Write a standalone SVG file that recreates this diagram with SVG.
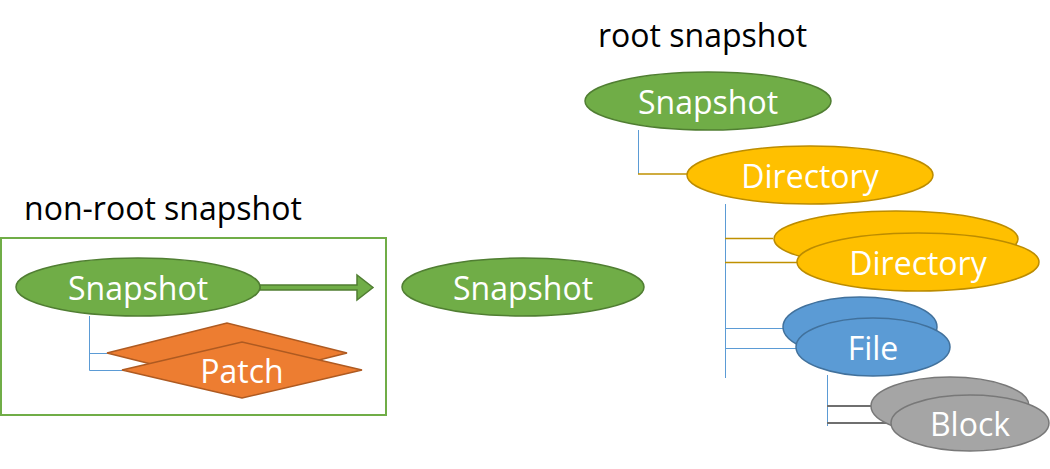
<svg xmlns="http://www.w3.org/2000/svg" width="1050" height="469" viewBox="0 0 1050 469">
<style>
text{font-family:"Open Sans","Noto Sans","Liberation Sans",sans-serif;}
.lbl{fill:#fff;font-size:32px;text-anchor:middle;dominant-baseline:central;}
.title{fill:#000;font-size:32px;}
.green{fill:#70AD47;stroke:#507E32;stroke-width:1.5;}
.orange{fill:#ED7D31;stroke:#AE5A21;stroke-width:1.5;}
.gold{fill:#FFC000;stroke:#BC8C00;stroke-width:1.5;}
.blue{fill:#5B9BD5;stroke:#41719C;stroke-width:1.5;}
.gray{fill:#A5A5A5;stroke:#787878;stroke-width:1.5;}
.cb{stroke:#5B9BD5;stroke-width:1;fill:none;}
.cg{stroke:#BF9000;stroke-width:1.5;fill:none;}
.cy{stroke:#6F6F6F;stroke-width:2;fill:none;}
</style>
<rect x="1" y="238" width="385" height="177" fill="none" stroke="#70AD47" stroke-width="2"/>
<text class="title" x="24" y="220">non-root snapshot</text>
<text class="title" x="598" y="47">root snapshot</text>
<g id="connectors">
<path class="cb" d="M89.5,316 V370.5 H122 M89.5,353.5 H107"/>
<path class="cb" d="M638.5,130 V174"/>
<path class="cg" d="M638,174 H687"/>
<path class="cb" d="M725.5,204 V378"/>
<path class="cg" d="M725,238.5 H773 M725,262.5 H797"/>
<path class="cb" d="M725,328.5 H783 M725,348.5 H796"/>
<path class="cb" d="M827.5,375 V426"/>
<path class="cy" d="M827,406 H871 M827,423 H891"/>
</g>
<g id="arrow">
<path d="M260,285 H357 V275 L373,287.5 L357,300 V290 H260 Z" fill="#70AD47" stroke="#507E32" stroke-width="1.5"/>
</g>
<g id="snapshot-nonroot">
<ellipse class="green" cx="138" cy="287" rx="122" ry="29"/>
<text class="lbl" x="138" y="287">Snapshot</text>
</g>
<g id="patch-back">
<polygon class="orange" points="107,353 227,323 347,353 227,383"/>
</g>
<g id="patch">
<polygon class="orange" points="122,370 242,342 362,370 242,398"/>
<text class="lbl" x="242" y="370">Patch</text>
</g>
<g id="snapshot-middle">
<ellipse class="green" cx="523" cy="287" rx="121" ry="29"/>
<text class="lbl" x="523" y="287">Snapshot</text>
</g>
<g id="snapshot-root">
<ellipse class="green" cx="708" cy="101" rx="123" ry="29"/>
<text class="lbl" x="708" y="101">Snapshot</text>
</g>
<g id="directory-root">
<ellipse class="gold" cx="810" cy="175" rx="123" ry="29"/>
<text class="lbl" x="810" y="175">Directory</text>
</g>
<g id="directory-back">
<ellipse class="gold" cx="896" cy="239" rx="122" ry="28"/>
</g>
<g id="directory">
<ellipse class="gold" cx="918" cy="262" rx="121" ry="29"/>
<text class="lbl" x="918" y="262">Directory</text>
</g>
<g id="file-back">
<ellipse class="blue" cx="860" cy="327" rx="77" ry="30"/>
</g>
<g id="file">
<ellipse class="blue" cx="873" cy="347" rx="77" ry="29"/>
<text class="lbl" x="873" y="347">File</text>
</g>
<g id="block-back">
<ellipse class="gray" cx="950" cy="406" rx="79" ry="29"/>
</g>
<g id="block">
<ellipse class="gray" cx="970" cy="423" rx="79" ry="28"/>
<text class="lbl" x="970" y="423">Block</text>
</g>
</svg>
